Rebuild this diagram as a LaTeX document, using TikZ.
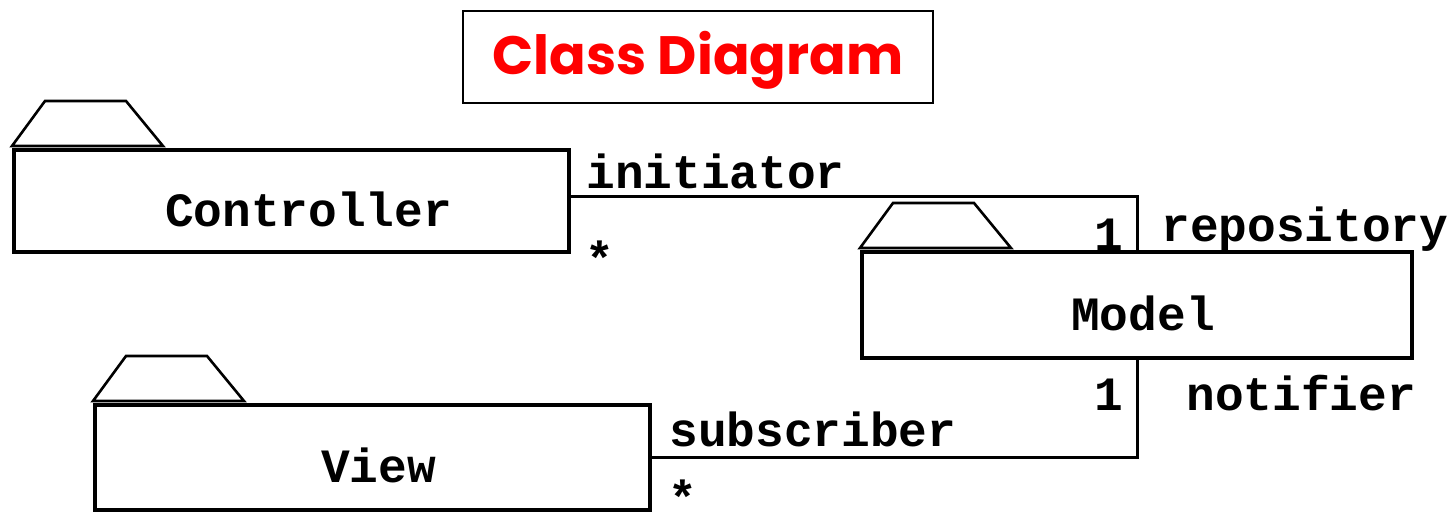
\documentclass[tikz,border=0pt]{standalone}
\usepackage{fontspec}
\setmonofont{Liberation Mono}
\newfontfamily\headfont{Poppins}
\newcommand{\umlfont}{\ttfamily\bfseries\fontsize{23.9}{28}\selectfont}
\begin{document}
\begin{tikzpicture}[x=0.5pt,y=-0.5pt,
  cls/.style={draw,line width=2pt,minimum width=277.5pt,minimum height=51pt,
    text height=25pt,text depth=0pt,font=\umlfont},
  tab/.style={line width=1.3pt,line join=miter},
  assoc/.style={line width=1.5pt},
  role/.style={inner sep=0pt,font=\umlfont}]
\useasboundingbox (0,0) rectangle (1452,515);
\node[draw,line width=1.1pt,minimum width=235pt,minimum height=46pt,
  text height=20pt,text depth=3pt,text=red,
  font=\headfont\bfseries\fontsize{27}{32}\selectfont] (title) at (698,57) {Class Diagram};
\node[cls] (ctrl) at (291.5,201) {\hspace*{17pt}Controller};
\node[cls,minimum width=275pt,minimum height=53pt] (model) at (1137,305) {\hspace*{6pt}Model};
\node[cls,minimum height=52.5pt] (view) at (372.5,457.5) {\hspace*{6pt}View};
\foreach \c in {ctrl,model,view} {
\draw[tab] ([yshift=1pt]\c.north west) -- ++(33,-45) -- ++(81,0) -- ++(37,45) -- cycle;
}
\draw[assoc] ([yshift=2.5pt]ctrl.east) -| (model.north);
\draw[assoc] (view.east) -| (model.south);
\node[role,anchor=base west] (lini) at (586,188) {initiator};
\node[role,anchor=base west] (lstar1) at (585,275) {*};
\node[role,anchor=base east] (lone1) at (1124,250) {1};
\node[role,anchor=base west] (lrepo) at (1161,241) {repository};
\node[role,anchor=base east] (lone2) at (1124,410) {1};
\node[role,anchor=base west] (lnoti) at (1186,410) {notifier};
\node[role,anchor=base west] (lsub) at (669,446) {subscriber};
\node[role,anchor=base west] (lstar2) at (668,514) {*};
\end{tikzpicture}
\end{document}
